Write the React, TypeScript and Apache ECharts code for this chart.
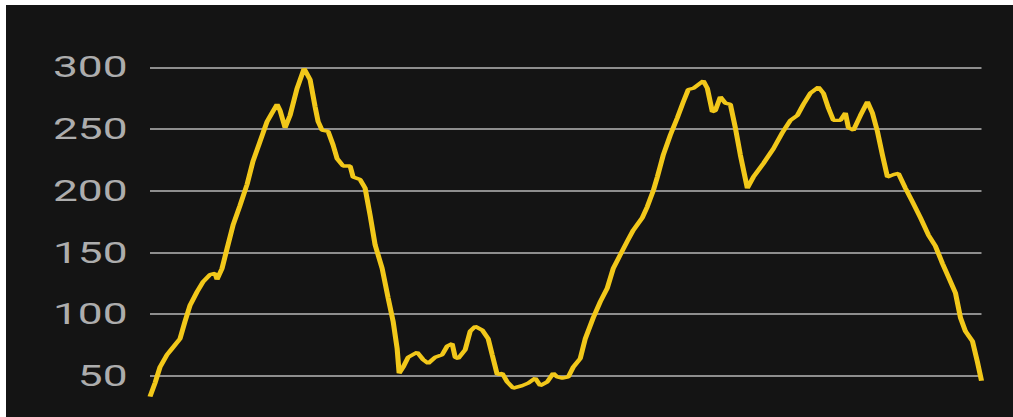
import React, { useEffect, useRef } from "react";
import * as echarts from "echarts";

// distance along the route (arbitrary units) and elevation values
const distance = [
  0, 5, 10, 17, 22, 30, 35, 40, 47, 53, 60, 65, 67, 72, 77, 83, 90, 97, 103, 110,
  117, 122, 127, 130, 135, 140, 147, 154, 160, 165, 168, 172, 178, 183, 187, 193, 200, 203, 210, 215,
  220, 225, 232, 238, 243, 247, 249, 253, 258, 267, 273, 278, 285, 292, 297, 302, 305, 308, 315, 320,
  325, 332, 338, 342, 347, 352, 357, 363, 372, 378, 385, 390, 397, 403, 407, 412, 418, 423, 430, 435,
  443, 450, 457, 463, 470, 477, 483, 492, 497, 503, 507, 510, 513, 520, 527, 533, 538, 543, 548, 553,
  557, 562, 565, 570, 575, 580, 585, 590, 597, 603, 613, 623, 632, 640, 647, 653, 660, 668, 673, 678,
  683, 690, 695, 698, 703, 710, 717, 722, 727, 732, 737, 743, 748, 755, 762, 770, 778, 785, 792, 798,
  805, 810, 815, 822, 827, 831,
];
const elevation = [
  33, 44, 57, 67, 72, 80, 94, 107, 118, 126, 132, 133, 128, 137, 153, 172, 188, 205, 224, 240,
  256, 263, 270, 265, 251, 261, 283, 299, 290, 268, 256, 249, 248, 237, 226, 220, 220, 211, 209, 202,
  180, 156, 137, 113, 94, 72, 52, 57, 65, 69, 63, 60, 65, 67, 74, 76, 65, 64, 71, 86,
  90, 87, 80, 67, 51, 52, 45, 40, 42, 44, 48, 42, 45, 52, 49, 48, 49, 57, 64, 80,
  97, 110, 121, 137, 148, 159, 168, 178, 187, 200, 211, 220, 229, 245, 259, 272, 282, 283, 286, 289,
  283, 264, 265, 276, 271, 270, 251, 229, 202, 211, 222, 234, 247, 257, 261, 270, 279, 284, 279, 267,
  257, 257, 263, 251, 249, 261, 272, 263, 248, 229, 211, 213, 214, 202, 191, 178, 164, 155, 141, 130,
  117, 97, 86, 78, 61, 46,
];
const yTicks = [0, 50, 100, 150, 200, 250, 300];

export default function App() {
  const ref = useRef<HTMLDivElement>(null);
  useEffect(() => {
    if (!ref.current) return;
    const chart = echarts.init(ref.current, null, { renderer: "svg" });
    chart.setOption({
      animation: false,
      backgroundColor: "#141414",
      grid: { left: 96, right: 20.67, top: 62.3, height: 370.1 },
      xAxis: {
        type: "value",
        min: 0,
        max: distance[distance.length - 1],
        show: false,
      },
      yAxis: {
        type: "value",
        min: yTicks[0],
        max: yTicks[yTicks.length - 1],
        interval: 50,
        axisLine: { show: false },
        axisTick: { show: false },
        axisLabel: {
          color: "#adadad",
          fontSize: 29.5,
          fontFamily: "Roboto",
          margin: 15,
          formatter: (v: number) => (v === 0 ? "" : String(v)),
        },
        splitLine: { lineStyle: { color: "#8e8e8e", width: 2 } },
      },
      series: [
        {
          type: "line",
          data: distance.map((d, i) => [d, elevation[i]]),
          showSymbol: false,
          lineStyle: { color: "#f2c81a", width: 3.4 },
          clip: true,
        },
      ],
    });
    return () => chart.dispose();
  }, []);
  return (
    <div
      style={{
        position: "fixed",
        left: 6,
        top: 5,
        width: 1007,
        height: 412,
        overflow: "hidden",
        background: "#141414",
      }}
    >
      <div
        ref={ref}
        style={{
          width: 671.33,
          height: 470,
          transform: "scaleX(1.5)",
          transformOrigin: "0 0",
        }}
      />
    </div>
  );
}
